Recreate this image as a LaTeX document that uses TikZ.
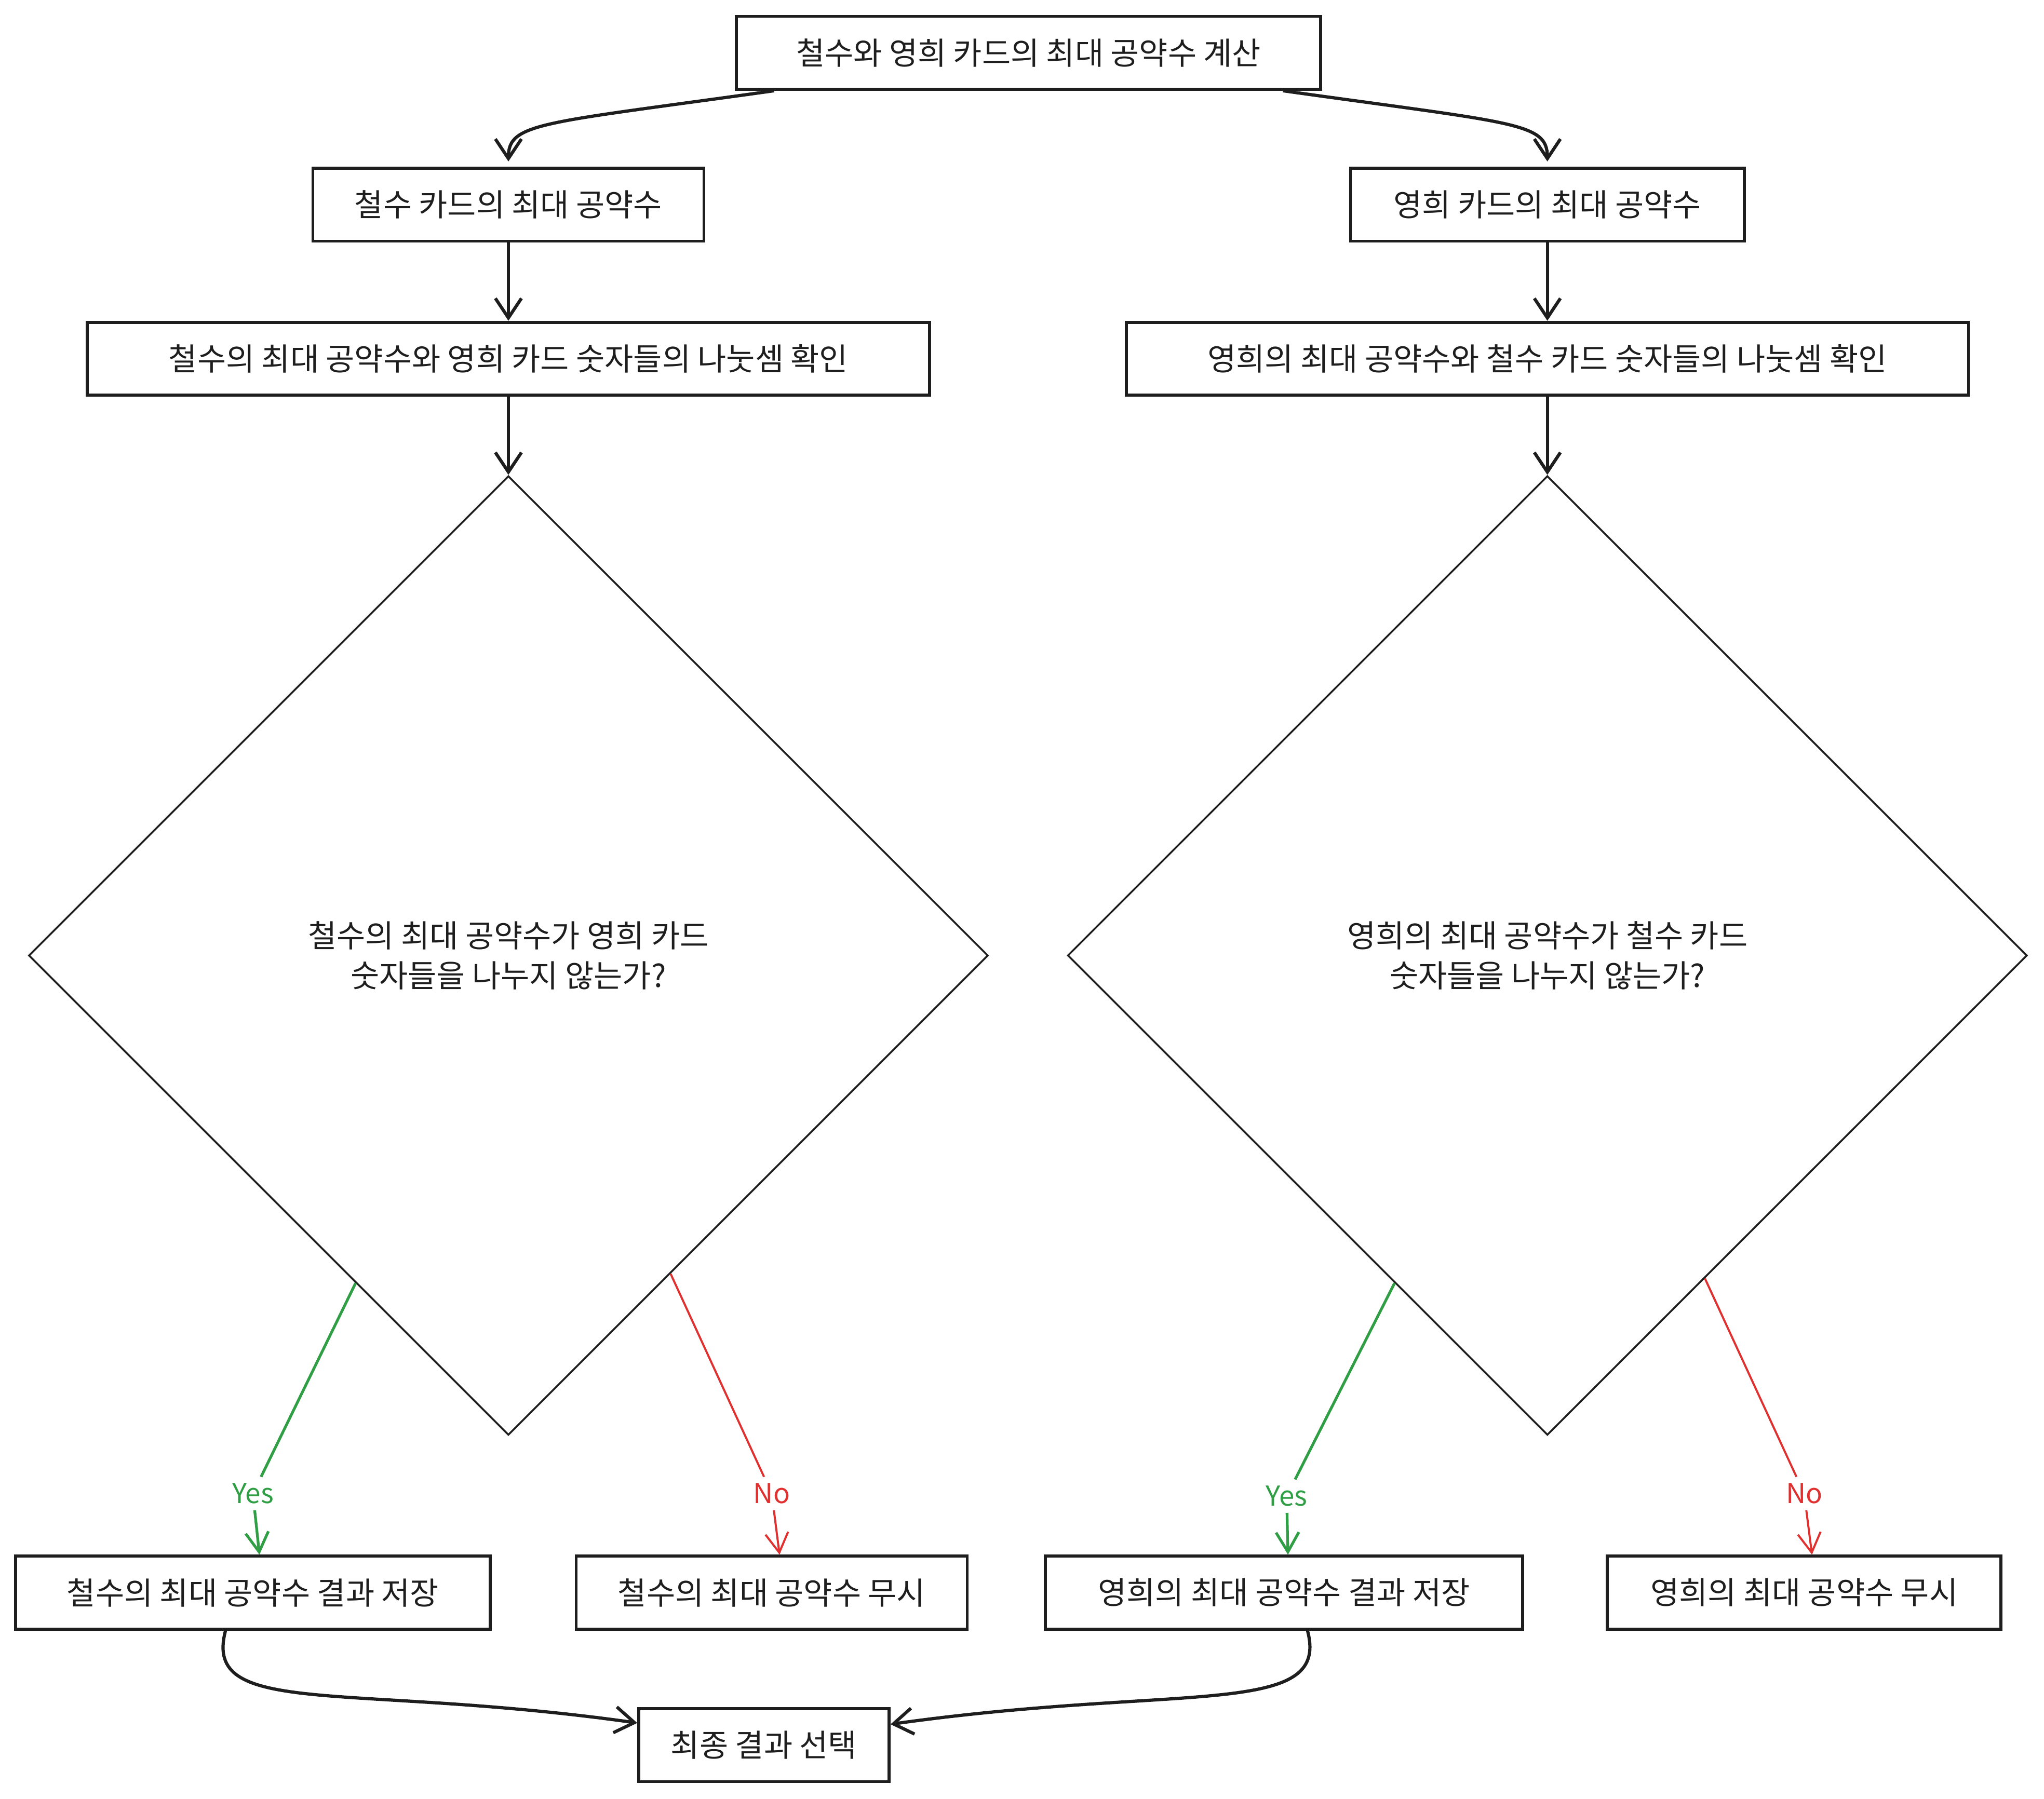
\documentclass[tikz,border=0pt]{standalone}
\usepackage{fontspec}
\setmainfont{Noto Sans CJK KR}
\usepackage{tikz}
\usetikzlibrary{positioning,shapes.geometric,arrows.meta}
\definecolor{ink}{HTML}{1E1E1E}
\definecolor{yesgreen}{HTML}{2F9E44}
\definecolor{nored}{HTML}{E03131}

\begin{document}
\begin{tikzpicture}[
  every node/.style={font=\fontsize{13.6}{17.5}\selectfont, text=ink},
  proc/.style={draw=ink, line width=1.3pt, minimum height=1.12cm,
               inner sep=0pt, align=center},
  dec/.style={draw=ink, line width=0.8pt, diamond, inner sep=0pt,
              minimum width=14.72cm, minimum height=14.72cm, align=center},
  arr/.style={-{Straight Barb[length=3mm,width=4mm]}, line width=1.4pt, draw=ink},
  branch/.style={-{Straight Barb[length=3mm,width=3.5mm]}},
  lbl/.style={font=\fontsize{12}{14}\selectfont, inner sep=1pt,
              minimum height=0.5cm},
  node distance=1.2cm
]
\useasboundingbox (0,0) rectangle (31.36,-27.6);

%% --- Start -----------------------------------------------------
\node[proc, minimum width=8.96cm] (calc) at (15.78,-0.81)
     {철수와 영희 카드의 최대 공약수 계산};

%% --- Two columns ----------------------------------------------
\node[proc, minimum width=6cm]    (cardL) at (7.8,-3.14)
     {철수 카드의 최대 공약수};
\node[proc, minimum width=6.04cm] (cardR) at (23.74,-3.14)
     {영희 카드의 최대 공약수};

\node[proc, minimum width=12.92cm, below=of cardL] (divL)
     {철수의 최대 공약수와 영희 카드 숫자들의 나눗셈 확인};
\node[proc, minimum width=12.92cm, below=of cardR] (divR)
     {영희의 최대 공약수와 철수 카드 숫자들의 나눗셈 확인};

\node[dec, below=of divL] (askL)
     {철수의 최대 공약수가 영희 카드\\숫자들을 나누지 않는가?};
\node[dec, below=of divR] (askR)
     {영희의 최대 공약수가 철수 카드\\숫자들을 나누지 않는가?};

%% --- Outcomes -------------------------------------------------
\node[proc, minimum width=7.28cm] (saveL) at (3.88,-24.44)
     {철수의 최대 공약수 결과 저장};
\node[proc, minimum width=6cm]    (skipL) at (11.84,-24.44)
     {철수의 최대 공약수 무시};
\node[proc, minimum width=7.32cm] (saveR) at (19.7,-24.44)
     {영희의 최대 공약수 결과 저장};
\node[proc, minimum width=6.04cm] (skipR) at (27.68,-24.44)
     {영희의 최대 공약수 무시};

\node[proc, minimum width=3.84cm] (pick) at (11.72,-26.78)
     {최종 결과 선택};

%% --- Branch labels --------------------------------------------
\node[lbl, text=yesgreen] (yesL) at (3.88,-22.92)  {Yes};
\node[lbl, text=nored]    (noL)  at (11.84,-22.92) {No};
\node[lbl, text=yesgreen] (yesR) at (19.74,-22.96) {Yes};
\node[lbl, text=nored]    (noR)  at (27.68,-22.92) {No};

%% --- Arrows ---------------------------------------------------
\draw[arr] ([xshift=0.6cm]calc.south west)
  .. controls +(188:3.6) and +(90:0.6) .. ([yshift=0.08cm]cardL.north);
\draw[arr] ([xshift=-0.6cm]calc.south east)
  .. controls +(-8:3.6) and +(90:0.6) .. ([yshift=0.08cm]cardR.north);

\draw[arr] (cardL) -- (divL);
\draw[arr] (cardR) -- (divR);
\draw[arr] (divL) -- (askL);
\draw[arr] (divR) -- (askR);

%% --- Yes / No branches ----------------------------------------
\draw[yesgreen, line width=1.2pt] (askL.245) -- (yesL);
\draw[branch, yesgreen, line width=1.2pt] (yesL) -- ([xshift=0.1cm]saveL.north);
\draw[nored, line width=0.9pt] (askL.-63.5) -- (noL);
\draw[branch, nored, line width=0.9pt] (noL) -- ([xshift=0.12cm]skipL.north);
\draw[yesgreen, line width=1.2pt] (askR.245) -- (yesR);
\draw[branch, yesgreen, line width=1.2pt] (yesR) -- ([xshift=0.06cm]saveR.north);
\draw[nored, line width=0.9pt] (askR.-64) -- (noR);
\draw[branch, nored, line width=0.9pt] (noR) -- ([xshift=0.12cm]skipR.north);

%% --- Merge ----------------------------------------------------
\draw[arr] ([xshift=-0.42cm]saveL.south)
  .. controls +(-105:1.4) and +(172:4.5) .. ([yshift=0.34cm]pick.west);
\draw[arr] ([xshift=0.36cm]saveR.south)
  .. controls +(-75:1.4) and +(8:4.5) .. ([yshift=0.32cm]pick.east);

\end{tikzpicture}
\end{document}
